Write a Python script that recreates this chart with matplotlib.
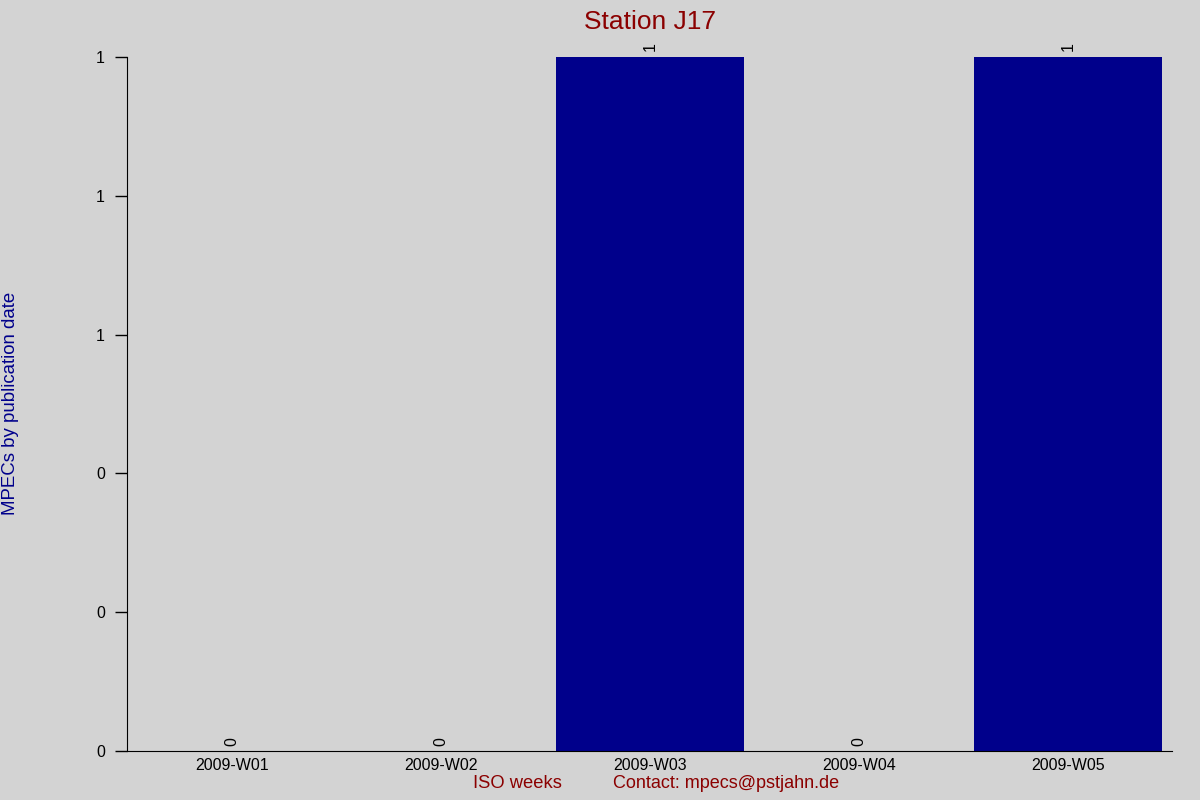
import numpy as np
import matplotlib
matplotlib.use("Agg")
import matplotlib.pyplot as plt
from matplotlib.ticker import FormatStrFormatter

weeks = ["2009-W01", "2009-W02", "2009-W03", "2009-W04", "2009-W05"]
counts = [0, 0, 1, 0, 1]

plt.rcParams['font.family'] = ['Liberation Sans', 'DejaVu Sans']

fig = plt.figure(figsize=(12, 8), dpi=100, facecolor='#d3d3d3')
ax = fig.add_axes([0.106, 0.061, 0.871, 0.868])
ax.set_facecolor('#d3d3d3')

x = np.arange(len(weeks))
ax.bar(x, counts, width=0.9, color='#00008b')
for xi, c in zip(x, counts):
    ax.text(xi, c + 0.008, str(c), rotation=90, ha='center', va='bottom',
            fontsize=11.5, color='black', clip_on=False)

ax.set_xlim(-0.5, 4.5)
ax.set_ylim(0, 1)
ax.set_yticks(np.linspace(0, 1, 6))
ax.yaxis.set_major_formatter(FormatStrFormatter('%.0f'))
ax.set_xticks(x)
ax.set_xticklabels(weeks)
ax.tick_params(axis='x', length=0, labelsize=11.5, pad=5)
ax.tick_params(axis='y', length=9, width=1, direction='out', labelsize=11.5, pad=7)
for s in ['top', 'right']:
    ax.spines[s].set_visible(False)

ax.set_title("Station J17", color='#8b0000', fontsize=19, pad=20,
             family=['Liberation Sans Narrow', 'Liberation Sans'])
fig.text(0.431, 0.015, "ISO weeks", color='#8b0000', fontsize=13.2, ha='center')
fig.text(0.511, 0.015, "Contact: mpecs@pstjahn.de", color='#8b0000', fontsize=13, ha='left')
fig.text(0.009, 0.496, "MPECs by publication date", color='#00008b', fontsize=13.4,
         rotation=90, ha='center', va='center')

fig.savefig("out.png", dpi=100, facecolor='#d3d3d3')
